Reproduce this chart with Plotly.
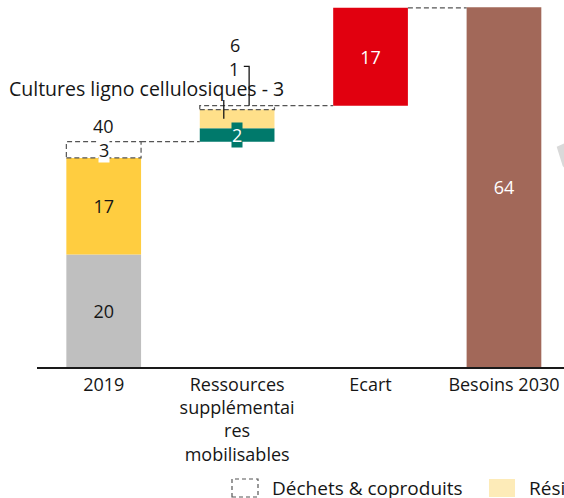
import plotly.graph_objects as go

# ---------------- data ----------------
categories = ["2019", "Ressources<br>supplémentai<br>res<br>mobilisables", "Ecart", "Besoins 2030"]
x_pos = [0, 1, 2, 3]

# 2019 stack
bois_2019 = 20.0
cultures_2019 = 17.2
dechets_2019 = 2.9
# additional mobilisable resources
teal_res = 2.4
ligno_res = 3.3
dechets_res = 0.7
# gap and needs
ecart = 17.4
besoins_2030 = 64.0

# text labels as printed on the chart
lbl_bois_2019 = "20"
lbl_cultures_2019 = "17"
lbl_dechets_2019 = "3"
lbl_total_2019 = "40"
lbl_teal_res = "2"
lbl_ligno_res = "Cultures ligno cellulosiques - 3"
lbl_dechets_res = "1"
lbl_total_res = "6"
lbl_ecart = "17"
lbl_besoins = "64"

legend_names = ["Déchets & coproduits", "Résidus agricoles"]

# ---------------- styles ----------------
FONT = "Open Sans"
TXT = "#161616"
GRAY = "#BFBFBF"
YELLOW = "#FFCD40"
LIGHT_YELLOW = "#FFE08A"
LEGEND_YELLOW = "#FDEBB8"
TEAL = "#00796B"
RED = "#E1000F"
BROWN = "#A26859"
DASH_COL = "#555555"
BW = 0.56
HW = BW / 2

total_2019 = bois_2019 + cultures_2019 + dechets_2019
res_base = total_2019
ligno_base = res_base + teal_res
dech_res_base = ligno_base + ligno_res
total_res_top = dech_res_base + dechets_res

fig = go.Figure()

def add_bar(x, y, base, color, text=None, tcolor=TXT, name=""):
    fig.add_trace(go.Bar(
        x=[x], y=[y], base=[base], width=[BW], name=name,
        marker=dict(color=color, line=dict(width=0)),
        text=[text] if text else None,
        textposition="inside" if text else "none",
        insidetextanchor="middle", textangle=0,
        textfont=dict(family=FONT, size=18, color=tcolor),
        showlegend=False, hoverinfo="skip"))

add_bar(x_pos[0], bois_2019, 0, GRAY, lbl_bois_2019, TXT, "Bois")
add_bar(x_pos[0], cultures_2019, bois_2019, YELLOW, lbl_cultures_2019, TXT, "Cultures")
add_bar(x_pos[1], teal_res, res_base, TEAL, None, "white", "Autres")
add_bar(x_pos[1], ligno_res, ligno_base, LIGHT_YELLOW, None, TXT, "Cultures ligno cellulosiques")
add_bar(x_pos[2], ecart, total_res_top, RED, lbl_ecart, "white", "Ecart")
add_bar(x_pos[3], besoins_2030, 0, BROWN, lbl_besoins, "white", "Besoins 2030")

shapes = []
dash = "5px,3px"
# dashed boxes (Déchets & coproduits)
shapes.append(dict(type="rect", xref="x", yref="y",
                   x0=x_pos[0] - HW, x1=x_pos[0] + HW,
                   y0=bois_2019 + cultures_2019, y1=total_2019,
                   line=dict(color=DASH_COL, width=1.2, dash=dash)))
shapes.append(dict(type="rect", xref="x", yref="y",
                   x0=x_pos[1] - HW, x1=x_pos[1] + HW,
                   y0=dech_res_base, y1=total_res_top,
                   line=dict(color=DASH_COL, width=1.2, dash=dash)))
# connectors
for xa, xb, yv in [(x_pos[0], x_pos[1], total_2019),
                   (x_pos[1], x_pos[2], total_res_top),
                   (x_pos[2], x_pos[3], total_res_top + ecart)]:
    shapes.append(dict(type="line", xref="x", yref="y",
                       x0=xa + HW, x1=xb - HW, y0=yv, y1=yv,
                       line=dict(color=DASH_COL, width=1.2, dash=dash)))
# leader for "1"
shapes.append(dict(type="path", xref="x", yref="y",
                   path=f"M {x_pos[1]+0.05},{total_res_top+7.0} L {x_pos[1]+0.09},{total_res_top+7.0} L {x_pos[1]+0.09},{total_res_top}",
                   line=dict(color=TXT, width=1.3)))
# leader for Cultures ligno cellulosiques
shapes.append(dict(type="line", xref="x", yref="y",
                   x0=x_pos[1] - 0.1, x1=x_pos[1] - 0.1,
                   y0=ligno_base + ligno_res * 0.5, y1=total_res_top + 1.0,
                   line=dict(color=TXT, width=1.3)))

# legend (drawn manually, paper coords)
def px2paper_x(px):
    return (px - 37) / 527
def px2paper_y(py):
    return (367 - py) / 367

shapes.append(dict(type="rect", xref="paper", yref="paper",
                   x0=px2paper_x(232), x1=px2paper_x(258),
                   y0=px2paper_y(497), y1=px2paper_y(479),
                   line=dict(color=DASH_COL, width=1.2, dash="4px,3px")))
shapes.append(dict(type="rect", xref="paper", yref="paper",
                   x0=px2paper_x(489), x1=px2paper_x(515),
                   y0=px2paper_y(497), y1=px2paper_y(479),
                   fillcolor=LEGEND_YELLOW, line=dict(width=0)))
# faint cut-off shape at the right edge
shapes.append(dict(type="path", xref="paper", yref="paper",
                   path=f"M {px2paper_x(556.7)},{px2paper_y(146.7)} L {px2paper_x(566)},{px2paper_y(142.5)} L {px2paper_x(566)},{px2paper_y(170)} L {px2paper_x(562.7)},{px2paper_y(166)} Z",
                   fillcolor="#D9D9D9", line=dict(width=0)))

ann = []
def add_ann(text, x, y, xref="x", yref="y", size=18, color=TXT, bg=None,
            xanchor="center", yanchor="middle", xshift=0, yshift=0, pad=1):
    d = dict(text=text, x=x, y=y, xref=xref, yref=yref, showarrow=False,
             font=dict(family=FONT, size=size, color=color),
             xanchor=xanchor, yanchor=yanchor, xshift=xshift, yshift=yshift,
             borderpad=pad)
    if bg:
        d["bgcolor"] = bg
    ann.append(d)

add_ann(lbl_dechets_2019, x_pos[0], bois_2019 + cultures_2019 + dechets_2019 / 2, bg="white", pad=0)
add_ann(lbl_total_2019, x_pos[0], total_2019, yshift=16)
add_ann(lbl_teal_res, x_pos[1], res_base + teal_res / 2, color="white", bg=TEAL, pad=0)
add_ann(lbl_total_res, x_pos[1], total_res_top, yshift=61, xshift=-2)
add_ann(lbl_dechets_res, x_pos[1], total_res_top, yshift=37, xshift=-3)
add_ann(lbl_ligno_res, x_pos[1], total_res_top, yshift=17, xshift=-91, size=19.5)

add_ann(legend_names[0], px2paper_x(270), px2paper_y(488), xref="paper", yref="paper",
        size=19, xanchor="left")
add_ann(legend_names[1], px2paper_x(527), px2paper_y(488), xref="paper", yref="paper",
        size=19, xanchor="left")

fig.update_layout(
    width=564, height=498,
    margin=dict(l=37, r=0, t=0, b=131),
    barmode="overlay",
    plot_bgcolor="white", paper_bgcolor="white",
    shapes=shapes, annotations=ann,
    font=dict(family=FONT, size=18, color=TXT),
    uniformtext=dict(mode=False),
)
fig.update_xaxes(range=[-0.5, 3.45], tickvals=x_pos, ticktext=categories,
                 showline=True, linecolor="#1a1a1a", linewidth=2,
                 showgrid=False, zeroline=False, ticks="",
                 tickfont=dict(family=FONT, size=18, color=TXT))
fig.update_yaxes(range=[0, 65.3], visible=False, showgrid=False, zeroline=False)

fig.write_html("out.html", config={"displayModeBar": False},
               post_script="document.body.style.margin='0';document.body.style.overflow='hidden';")
